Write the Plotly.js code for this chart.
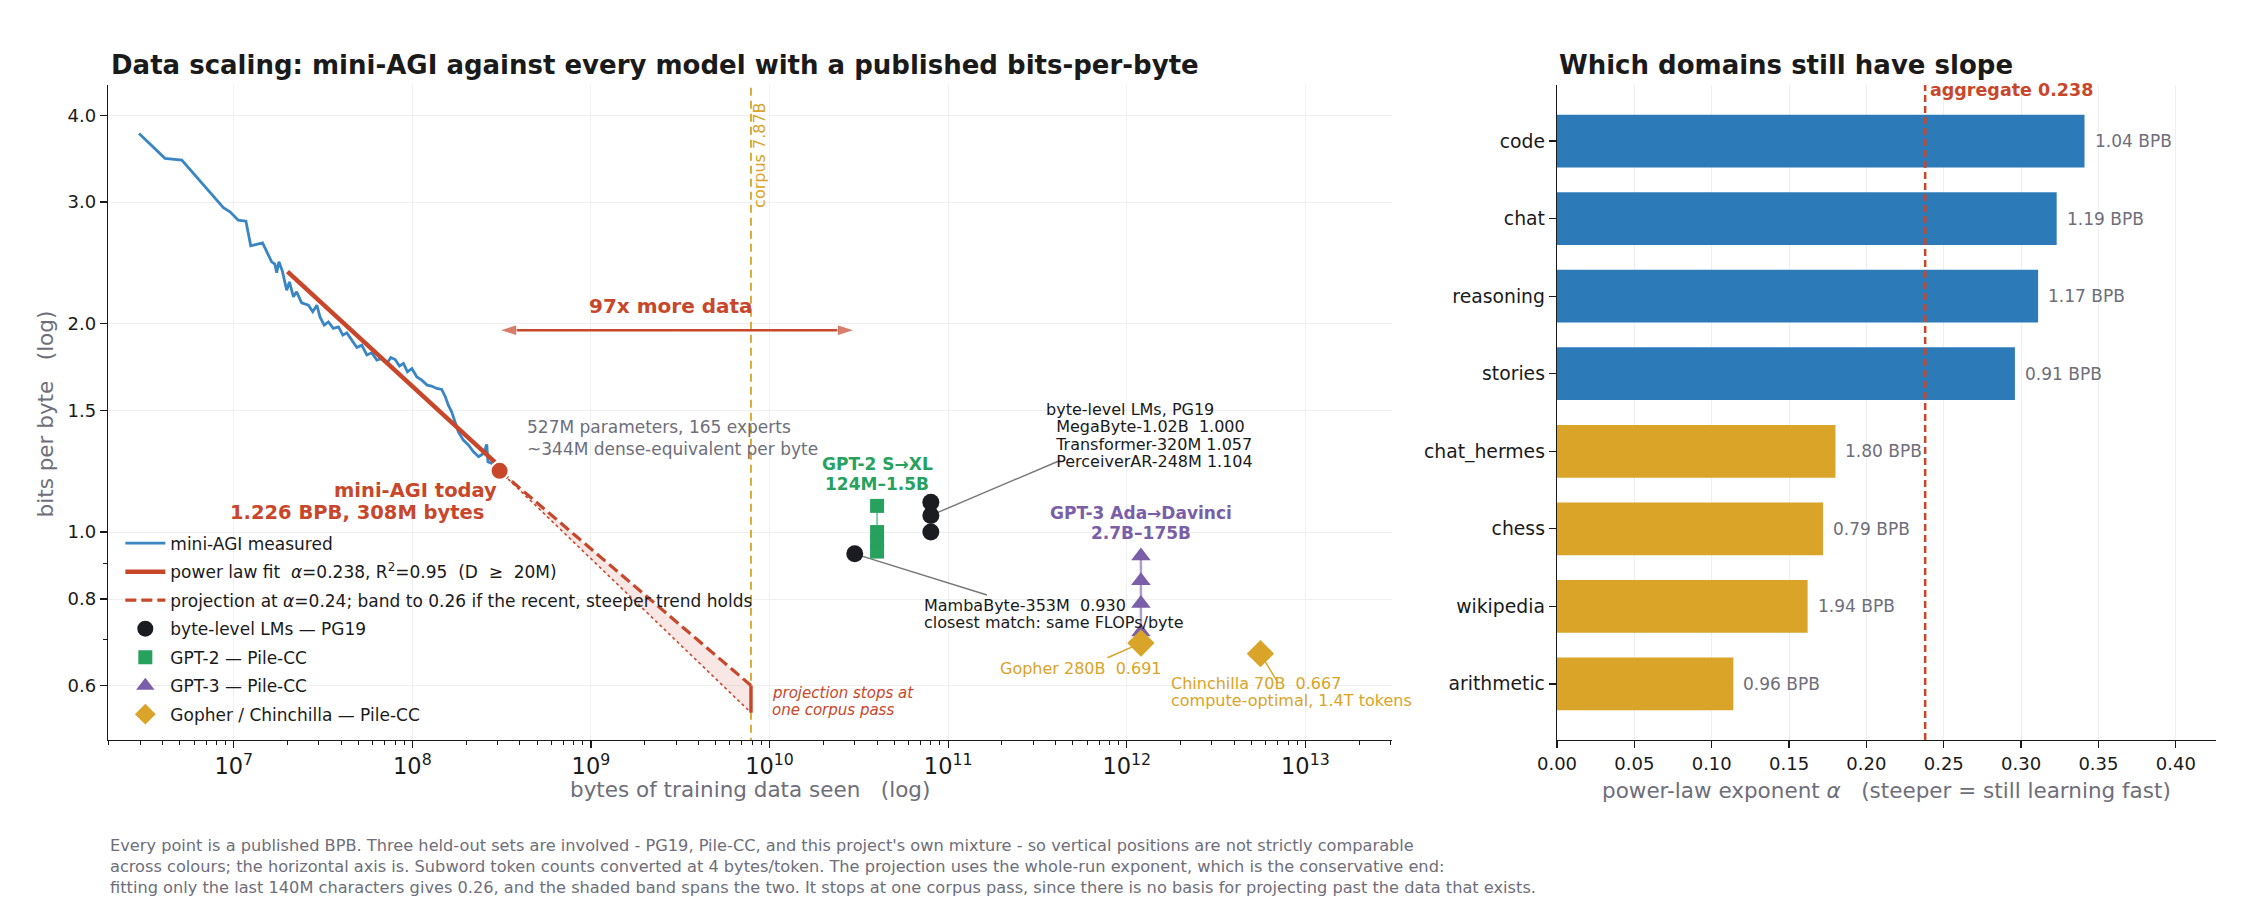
<!DOCTYPE html>
<html><head><meta charset="utf-8">
<script src="https://cdn.plot.ly/plotly-3.0.1.min.js"></script>
<style>html,body{margin:0;padding:0;background:#fff}#chart{width:2249px;height:897px}</style>
</head><body><div id="chart"></div>
<script>
// ================= DATA =================
// mini-AGI measured curve (bytes seen, bits per byte)
const measuredBytes = [2.95e6, 4.12e6, 5.12e6, 6.76e6, 8.75e6, 9.53e6, 1.06e7, 1.17e7, 1.245e7, 1.45e7,
  1.63e7, 1.70e7, 1.74e7, 1.79e7, 1.87e7, 1.98e7, 2.05e7, 2.16e7, 2.25e7, 2.40e7,
  2.62e7, 2.77e7, 2.92e7, 3.04e7, 3.21e7, 3.39e7, 3.61e7, 3.86e7, 4.08e7, 4.30e7,
  4.58e7, 4.89e7, 5.21e7, 5.56e7, 5.93e7, 6.33e7, 6.75e7, 7.20e7, 7.58e7, 8.01e7,
  8.47e7, 8.92e7, 9.39e7, 9.94e7, 1.06e8, 1.13e8, 1.21e8, 1.28e8, 1.37e8, 1.46e8,
  1.53e8, 1.59e8, 1.66e8, 1.74e8, 1.81e8, 1.93e8, 2.06e8, 2.20e8, 2.35e8, 2.50e8,
  2.61e8, 2.65e8, 2.79e8, 2.97e8];
const measuredBPB = [3.77, 3.47, 3.45, 3.18, 2.945, 2.904, 2.824, 2.815, 2.593, 2.619,
  2.459, 2.440, 2.371, 2.459, 2.386, 2.237, 2.300, 2.188, 2.225, 2.145,
  2.128, 2.082, 2.128, 2.047, 1.991, 2.013, 1.970, 1.980, 1.926, 1.941,
  1.895, 1.849, 1.863, 1.803, 1.816, 1.773, 1.782, 1.753, 1.788, 1.776,
  1.738, 1.753, 1.705, 1.724, 1.676, 1.658, 1.631, 1.626, 1.613, 1.608,
  1.569, 1.526, 1.492, 1.443, 1.396, 1.358, 1.336, 1.306, 1.285, 1.299,
  1.339, 1.264, 1.257, 1.245];
// power-law fit segment (D >= 20M)
const fitBytes = [2.0e7, 2.9e8];
const fitBPB = [2.38, 1.262];
// mini-AGI today
const todayBytes = [3.08e8];
const todayBPB = [1.226];
// projection to one corpus pass
const corpusBytes = 7.87e9;
const projBytes = [3.08e8, 7.87e9];
const projBPB = [1.226, 0.600];        // alpha = 0.24
const projSteepBPB = [1.226, 0.548];   // alpha = 0.26
// published models
const byteLevelNames = ['MambaByte-353M', 'MegaByte-1.02B', 'Transformer-320M', 'PerceiverAR-248M'];
const byteLevelBytes = [3.0e10, 8.0e10, 8.0e10, 8.0e10];
const byteLevelBPB = [0.930, 1.000, 1.057, 1.104];
const gpt2Names = ['GPT-2 S', 'GPT-2 M', 'GPT-2 L', 'GPT-2 XL'];
const gpt2Bytes = [4.0e10, 4.0e10, 4.0e10, 4.0e10];
const gpt2BPB = [1.091, 1.000, 0.967, 0.937];
const gpt3Names = ['Ada', 'Babbage', 'Curie', 'Davinci'];
const gpt3Bytes = [1.2e12, 1.2e12, 1.2e12, 1.2e12];
const gpt3BPB = [0.923, 0.850, 0.788, 0.717];
const dmNames = ['Gopher 280B', 'Chinchilla 70B'];
const dmBytes = [1.2e12, 5.6e12];
const dmBPB = [0.691, 0.667];
// "97x more data" arrow ends
const arrowBytes = [3.08e8, 2.99e10];
const arrowBPB = 1.958;

// right panel: per-domain exponents
const domains = ['code', 'chat', 'reasoning', 'stories', 'chat_hermes', 'chess', 'wikipedia', 'arithmetic'];
const domainAlpha = [0.341, 0.323, 0.311, 0.296, 0.180, 0.172, 0.162, 0.114];
const domainBPB = [1.04, 1.19, 1.17, 0.91, 1.80, 0.79, 1.94, 0.96];
const aggregateAlpha = 0.238;

// ================= STYLE =================
const F = 'DejaVu Sans';
const RED = '#c8472b', BLUE = '#3a86c4', BARBLUE = '#2c7bb8', GOLD = '#d9a427',
      GREEN = '#27a15e', PURPLE = '#7a5ea8', BLACK = '#1b1b22', GRAY = '#6e6e7a', GRID = '#efefef';
const NB = '\u00a0';
const L = Math.log10;

const traces = [];
// band between alpha 0.24 and 0.26
traces.push({x: [projBytes[0], projBytes[1], projBytes[1], projBytes[0]],
  y: [projBPB[0], projBPB[1], projSteepBPB[1], projSteepBPB[0]],
  type: 'scatter', mode: 'lines', fill: 'toself', fillcolor: 'rgba(200,71,43,0.13)',
  line: {width: 0}, showlegend: false, hoverinfo: 'skip'});
traces.push({x: projBytes, y: projSteepBPB, type: 'scatter', mode: 'lines',
  line: {color: RED, width: 1.6, dash: 'dot'}, showlegend: false});
traces.push({x: projBytes, y: projBPB, type: 'scatter', mode: 'lines', legendrank: 3, legendgroup: 'g3',
  name: 'projection at <i>α</i>=0.24; band to 0.26 if the recent, steeper trend holds',
  line: {color: RED, width: 3.2, dash: '11px,5px'}});
// corpus line
traces.push({x: [corpusBytes, corpusBytes], y: [0.45, 5], type: 'scatter', mode: 'lines',
  line: {color: GOLD, width: 1.8, dash: '8px,5px'}, showlegend: false});
// projection stop bar
traces.push({x: [corpusBytes, corpusBytes], y: [projSteepBPB[1], projBPB[1]], type: 'scatter', mode: 'lines',
  line: {color: RED, width: 3.5}, showlegend: false});
// measured
traces.push({x: measuredBytes, y: measuredBPB, type: 'scatter', mode: 'lines', name: 'mini-AGI measured',
  legendrank: 1, legendgroup: 'g1', line: {color: BLUE, width: 2.8}});
// fit
traces.push({x: fitBytes, y: fitBPB, type: 'scatter', mode: 'lines', legendrank: 2, legendgroup: 'g2',
  name: 'power law fit' + NB + NB + '<i>α</i>=0.238, R<sup>2</sup>=0.95' + NB + NB + '(D ' + NB + '≥' + NB + ' 20M)',
  line: {color: RED, width: 4.5}});
// "97x more data" double arrow (two half-segments, arrow marker at each outer end)
const arrowMid = Math.sqrt(arrowBytes[0] * arrowBytes[1]);
[0, 1].forEach(k => traces.push({x: [arrowMid, arrowBytes[k]], y: [arrowBPB, arrowBPB], type: 'scatter', mode: 'lines+markers',
  line: {color: RED, width: 2.4}, marker: {symbol: 'arrow', angleref: 'previous', size: [0, 18], color: RED},
  showlegend: false, hoverinfo: 'skip'}));
// leader lines from labels to points
const leaders = [
  [[4.26e11, byteLevelBytes[2]], [1.27, byteLevelBPB[2]], '#777'],
  [[1.65e11, byteLevelBytes[0]], [0.811, byteLevelBPB[0]], '#777'],
  [[7.8e11, dmBytes[0]], [0.658, dmBPB[0]], GOLD],
  [[7.0e12, dmBytes[1]], [0.606, dmBPB[1]], GOLD]];
leaders.forEach(([lx, ly, c]) => traces.push({x: lx, y: ly, type: 'scatter', mode: 'lines',
  line: {color: c, width: 1.4}, showlegend: false, hoverinfo: 'skip'}));
// connecting lines
traces.push({x: gpt2Bytes, y: gpt2BPB, type: 'scatter', mode: 'lines', line: {color: 'rgba(39,161,94,0.55)', width: 2}, showlegend: false});
traces.push({x: gpt3Bytes, y: gpt3BPB, type: 'scatter', mode: 'lines', line: {color: 'rgba(122,94,168,0.6)', width: 2.5}, showlegend: false});
// markers
traces.push({x: byteLevelBytes, y: byteLevelBPB, text: byteLevelNames, type: 'scatter', mode: 'markers',
  name: 'byte-level LMs — PG19', legendrank: 4, legendgroup: 'g4', marker: {color: BLACK, size: 17, symbol: 'circle'}});
traces.push({x: gpt2Bytes, y: gpt2BPB, text: gpt2Names, type: 'scatter', mode: 'markers',
  name: 'GPT-2 — Pile-CC', legendrank: 5, legendgroup: 'g5', marker: {color: GREEN, size: 14, symbol: 'square'}});
traces.push({x: gpt3Bytes, y: gpt3BPB, text: gpt3Names, type: 'scatter', mode: 'markers',
  name: 'GPT-3 — Pile-CC', legendrank: 6, legendgroup: 'g6', marker: {color: PURPLE, size: 17, symbol: 'triangle-up'}});
traces.push({x: dmBytes, y: dmBPB, text: dmNames, type: 'scatter', mode: 'markers',
  name: 'Gopher / Chinchilla — Pile-CC', legendrank: 7, legendgroup: 'g7', marker: {color: GOLD, size: 21, symbol: 'diamond'}});
traces.push({x: todayBytes, y: todayBPB, type: 'scatter', mode: 'markers', showlegend: false,
  marker: {color: RED, size: 18, line: {color: '#fff', width: 2}}});

// right panel bars
const barColors = domainAlpha.map(a => a > aggregateAlpha ? BARBLUE : GOLD);
traces.push({type: 'bar', orientation: 'h', x: domainAlpha, y: domains, xaxis: 'x2', yaxis: 'y2',
  width: 0.68, marker: {color: barColors, line: {width: 0}}, showlegend: false});

// ================= ANNOTATIONS =================
const ann = [];
function txt(xv, yv, text, size, color, o) {
  return Object.assign({xref: 'x', yref: 'y', x: L(xv), y: L(yv), text: text, showarrow: false,
    font: {family: F, size: size, color: color}}, o || {});
}
// titles
ann.push({xref: 'paper', yref: 'paper', x: 0.0483, y: 0.9275, xanchor: 'left', yanchor: 'middle', showarrow: false,
  text: '<b>Data scaling: mini-AGI against every model with a published bits-per-byte</b>',
  font: {family: F, size: 26, color: '#1a1a1a'}});
ann.push({xref: 'paper', yref: 'paper', x: 0.6923, y: 0.9275, xanchor: 'left', yanchor: 'middle', showarrow: false,
  text: '<b>Which domains still have slope</b>', font: {family: F, size: 26, color: '#1a1a1a'}});
// axis titles
ann.push({xref: 'paper', yref: 'paper', x: 0.3333, y: 0.1193, xanchor: 'center', yanchor: 'middle', showarrow: false,
  text: 'bytes of training data seen' + NB + NB + NB + '(log)', font: {family: F, size: 21.5, color: GRAY}});
ann.push({xref: 'paper', yref: 'paper', x: 0.0200, y: 0.5391, xanchor: 'center', yanchor: 'middle', showarrow: false,
  textangle: -90, text: 'bits per byte' + NB + NB + NB + '(log)', font: {family: F, size: 21.5, color: GRAY}});
ann.push({xref: 'paper', yref: 'paper', x: 0.8388, y: 0.1183, xanchor: 'center', yanchor: 'middle', showarrow: false,
  text: 'power-law exponent <i>α</i>' + NB + NB + NB + '(steeper = still learning fast)', font: {family: F, size: 21.5, color: GRAY}});
// footnote
ann.push({xref: 'paper', yref: 'paper', x: 0.0478, y: 0.0700, xanchor: 'left', yanchor: 'top', align: 'left', showarrow: false,
  font: {family: F, size: 16.2, color: GRAY},
  text: "Every point is a published BPB. Three held-out sets are involved - PG19, Pile-CC, and this project's own mixture - so vertical positions are not strictly comparable<br>" +
        "across colours; the horizontal axis is. Subword token counts converted at 4 bytes/token. The projection uses the whole-run exponent, which is the conservative end:<br>" +
        "fitting only the last 140M characters gives 0.26, and the shaded band spans the two. It stops at one corpus pass, since there is no basis for projecting past the data that exists."});

// corpus label
ann.push(txt(corpusBytes, 3.51, 'corpus 7.87B', 16, GOLD, {textangle: -90, xshift: 9}));
// 97x label
ann.push(txt(arrowMid, 2.12, '<b>' + Math.round(arrowBytes[1] / arrowBytes[0]) + 'x more data</b>', 20, RED, {xshift: -6}));
// MoE note
ann.push(txt(4.3e8, 1.476, '527M parameters, 165 experts<br>~344M dense-equivalent per byte', 17, GRAY,
  {xanchor: 'left', yanchor: 'top', align: 'left'}));
// today label
ann.push(txt(todayBytes[0], todayBPB[0], '<b>mini-AGI today</b>', 19.5, RED, {xanchor: 'right', yanchor: 'middle', xshift: -1, yshift: -20}));
ann.push(txt(todayBytes[0], todayBPB[0], '<b>' + todayBPB[0].toFixed(3) + ' BPB, ' + Math.round(todayBytes[0] / 1e6) + 'M bytes</b>', 19.5, RED,
  {xanchor: 'right', yanchor: 'middle', xshift: -14, yshift: -42}));
// GPT-2 / GPT-3 labels
ann.push(txt(gpt2Bytes[0], gpt2BPB[0], '<b>GPT-2 S→XL</b>', 17, GREEN, {yshift: 42}));
ann.push(txt(gpt2Bytes[0], gpt2BPB[0], '<b>124M–1.5B</b>', 17, GREEN, {yshift: 22}));
ann.push(txt(gpt3Bytes[0], gpt3BPB[0], '<b>GPT-3 Ada→Davinci</b>', 17, PURPLE, {yshift: 43}));
ann.push(txt(gpt3Bytes[0], gpt3BPB[0], '<b>2.7B–175B</b>', 17, PURPLE, {yshift: 23}));
// byte-level LMs block
const blLines = ['byte-level LMs, PG19'];
for (let i = 1; i < 4; i++) {
  const pad = byteLevelNames[i].length < 16 ? NB + NB : NB;
  blLines.push(NB + NB + byteLevelNames[i] + pad + byteLevelBPB[i].toFixed(3));
}
blLines.forEach((s, i) => ann.push(txt(3.46e11, 1.38, s, 16, '#1a1a1a', {xanchor: 'left', yanchor: 'middle', yshift: -i * 17.4 + 26})));
// Mamba
ann.push(txt(7.1e10, 0.81, byteLevelNames[0] + NB + NB + byteLevelBPB[0].toFixed(3), 16, '#1a1a1a', {xanchor: 'left', yanchor: 'middle', yshift: -10}));
ann.push(txt(7.1e10, 0.81, 'closest match: same FLOPs/byte', 16, '#1a1a1a', {xanchor: 'left', yanchor: 'middle', yshift: -27}));
// Gopher / Chinchilla
ann.push(txt(1.91e11, 0.634, dmNames[0] + NB + NB + dmBPB[0].toFixed(3), 16, GOLD, {xanchor: 'left', yanchor: 'middle'}));
ann.push(txt(1.73e12, 0.604, dmNames[1] + NB + NB + dmBPB[1].toFixed(3), 16, GOLD, {xanchor: 'left', yanchor: 'middle'}));
ann.push(txt(1.73e12, 0.604, 'compute-optimal, 1.4T tokens', 16, GOLD, {xanchor: 'left', yanchor: 'middle', yshift: -17}));
// projection stops
ann.push(txt(corpusBytes, 0.586, '<i>projection stops at</i>', 15, RED, {xanchor: 'left', yanchor: 'middle', xshift: 19}));
ann.push(txt(corpusBytes, 0.586, '<i>one corpus pass</i>', 15, RED, {xanchor: 'left', yanchor: 'middle', xshift: 19, yshift: -17}));

// right panel labels
domains.forEach((d, i) => ann.push({xref: 'x2', yref: 'y2', x: domainAlpha[i], y: d, xanchor: 'left', yanchor: 'middle',
  xshift: 8, showarrow: false, text: domainBPB[i].toFixed(2) + ' BPB', font: {family: F, size: 17, color: GRAY}}));
ann.push({xref: 'x2', yref: 'y2 domain', x: aggregateAlpha, y: 0.992, xanchor: 'left', yanchor: 'middle', xshift: 3, showarrow: false,
  text: '<b>aggregate ' + aggregateAlpha.toFixed(3) + '</b>', font: {family: F, size: 17.5, color: RED}});

const shapes = [{type: 'line', xref: 'x2', yref: 'y2 domain', x0: aggregateAlpha, x1: aggregateAlpha, y0: 0, y1: 1,
  line: {color: RED, width: 2.5, dash: '7px,4px'}}];

// ================= LAYOUT =================
const tickF = {family: F, size: 18, color: '#1a1a1a'};
const layout = {
  width: 2249, height: 897, margin: {l: 0, r: 0, t: 0, b: 0},
  paper_bgcolor: '#fff', plot_bgcolor: '#fff', font: {family: F, color: '#1a1a1a'},
  showlegend: true,
  legend: {x: 0.0535, y: 0.414, xanchor: 'left', yanchor: 'top', bgcolor: 'rgba(0,0,0,0)',
    font: {family: F, size: 17, color: '#1a1a1a'}, traceorder: 'grouped', tracegroupgap: 3.4, itemwidth: 40},
  xaxis: {type: 'log', domain: [0.04802, 0.61894], range: [6.296, 13.485], anchor: 'y',
    dtick: 1, exponentformat: 'power', tickfont: tickF, showgrid: true, gridcolor: GRID, gridwidth: 1,
    showline: true, linecolor: '#1a1a1a', linewidth: 1.3, ticks: 'outside', ticklen: 7, tickwidth: 1.3, tickcolor: '#1a1a1a',
    zeroline: false, minor: {ticks: 'outside', ticklen: 4, tickwidth: 1, tickcolor: '#1a1a1a', dtick: 'D1', showgrid: false}},
  yaxis: {type: 'log', domain: [0.17503, 0.90524], range: [-0.3007, 0.6464], anchor: 'x',
    tickvals: [0.6, 0.8, 1.0, 1.5, 2, 3, 4], ticktext: ['0.6', '0.8', '1.0', '1.5', '2.0', '3.0', '4.0'],
    tickfont: tickF, showgrid: true, gridcolor: GRID, gridwidth: 1,
    showline: true, linecolor: '#1a1a1a', linewidth: 1.3, ticks: 'outside', ticklen: 7, tickwidth: 1.3, tickcolor: '#1a1a1a',
    zeroline: false, minor: {tickvals: [0.7, 0.9], ticks: 'outside', ticklen: 4, tickwidth: 1, tickcolor: '#1a1a1a', showgrid: false}},
  xaxis2: {domain: [0.69231, 0.98533], range: [0, 0.426], anchor: 'y2', tick0: 0, dtick: 0.05, tickformat: '.2f',
    tickfont: tickF, showgrid: true, gridcolor: GRID, gridwidth: 1, zeroline: false,
    showline: true, linecolor: '#1a1a1a', linewidth: 1.3, ticks: 'outside', ticklen: 7, tickwidth: 1.3, tickcolor: '#1a1a1a'},
  yaxis2: {domain: [0.17503, 0.90524], type: 'category', categoryarray: domains, categoryorder: 'array',
    range: [7.724, -0.724], anchor: 'x2', tickfont: {family: F, size: 18.8, color: '#1a1a1a'}, showgrid: false, zeroline: false,
    showline: true, linecolor: '#1a1a1a', linewidth: 1.3, ticks: 'outside', ticklen: 7, tickwidth: 1.3, tickcolor: '#1a1a1a'},
  annotations: ann, shapes: shapes
};
Plotly.newPlot('chart', traces, layout, {displayModeBar: false, staticPlot: true});
</script></body></html>
